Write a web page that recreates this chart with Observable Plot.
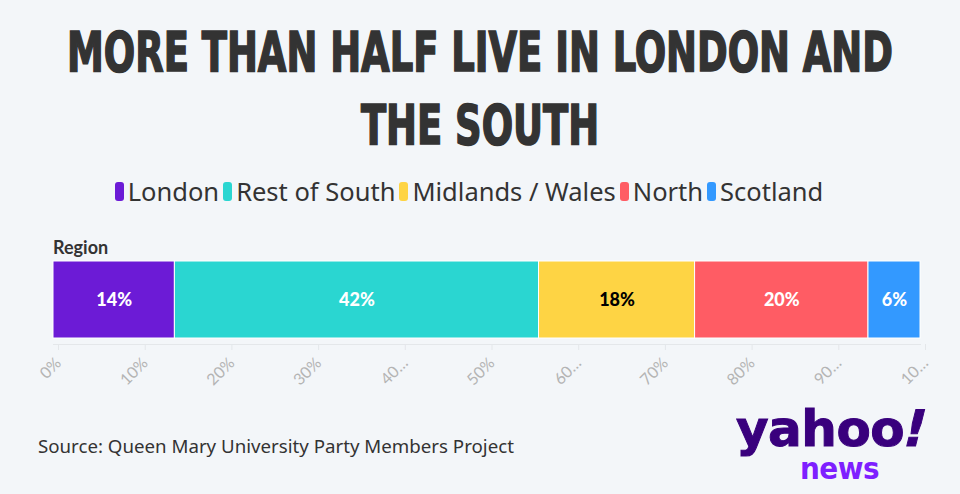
<!DOCTYPE html>
<html><head><meta charset="utf-8">
<script src="https://cdn.jsdelivr.net/npm/d3@7"></script>
<script src="https://cdn.jsdelivr.net/npm/@observablehq/plot@0.6"></script>
<style>
html,body{margin:0;padding:0;background:#f3f6f9;width:960px;height:494px;overflow:hidden;position:relative;}
.tl{position:absolute;left:0;width:960px;height:60px;}
.tl span{position:absolute;left:50%;top:0;font-family:"DejaVu Sans Condensed","DejaVu Sans",sans-serif;font-weight:bold;font-size:56px;line-height:56px;color:#333;white-space:nowrap;-webkit-text-stroke:1.6px #333;transform-origin:center center;}
#legend{position:absolute;left:0;width:942px;top:174px;display:flex;justify-content:center;align-items:center;font-family:"Noto Sans",sans-serif;font-size:25.5px;color:#333;}
#legend .item{display:flex;align-items:center;margin-right:4px;}
#legend .sw{width:9px;height:19px;border-radius:3px;margin-right:4px;}
#region{position:absolute;left:53px;top:236px;font-family:Lato,sans-serif;font-weight:bold;font-size:18px;color:#333;}
#chart{position:absolute;left:0;top:256px;}
#source{position:absolute;left:38px;top:433px;font-family:"Noto Sans",sans-serif;font-size:18.7px;color:#333;}
#logo .y{position:absolute;left:736px;top:408px;font-family:"DejaVu Sans",sans-serif;font-weight:bold;font-size:50px;line-height:42px;color:#39007d;letter-spacing:-0.5px;white-space:nowrap;-webkit-text-stroke:1px #39007d;}
#logo .y i{display:inline-block;transform:skewX(-14deg);font-style:normal;}
#logo .n{position:absolute;left:800px;top:456px;font-family:"DejaVu Sans Condensed","DejaVu Sans",sans-serif;font-weight:bold;font-size:31px;line-height:24px;color:#7e1fff;letter-spacing:-0.5px;}
</style></head>
<body>
<div class="tl" id="t1" style="top:24px"><span>MORE THAN HALF LIVE IN LONDON AND</span></div>
<div class="tl" id="t2" style="top:97px"><span>THE SOUTH</span></div>
<div id="legend"></div>
<div id="region">Region</div>
<div id="chart"></div>
<div id="source">Source: Queen Mary University Party Members Project</div>
<div id="logo"><div class="y">yahoo<i>!</i></div><div class="n">news</div></div>
<script>
const regions = ["London", "Rest of South", "Midlands / Wales", "North", "Scotland"];
const shares = [14, 42, 18, 20, 6];
const palette = ["#6c1bd6", "#2ad6d1", "#fed444", "#ff5c64", "#3399ff"];
const labelInk = ["#ffffff", "#ffffff", "#000000", "#ffffff", "#ffffff"];
const tickValues = [0, 10, 20, 30, 40, 50, 60, 70, 80, 90, 100];
const tickLabels = ["0%", "10%", "20%", "30%", "40…", "50%", "60…", "70%", "80%", "90…", "10…"];

const data = regions.map((r, i) => ({region: r, share: shares[i], color: palette[i], ink: labelInk[i]}));

// condensed title: squeeze both lines by the same factor so line 1 spans ~826px, centred
const s1 = document.querySelector("#t1 span"), s2 = document.querySelector("#t2 span");
const k = 826 / s1.offsetWidth;
s1.style.transform = `translateX(-50%) scaleX(${k})`;
s2.style.transform = `translateX(-50%) scaleX(${k})`;

// legend
const legend = document.getElementById("legend");
regions.forEach((r, i) => {
  const it = document.createElement("div"); it.className = "item";
  const sw = document.createElement("div"); sw.className = "sw"; sw.style.background = palette[i];
  const t = document.createElement("span"); t.textContent = r;
  it.appendChild(sw); it.appendChild(t); legend.appendChild(it);
});

const chart = Plot.plot({
  width: 960, height: 140,
  marginTop: 5, marginBottom: 52, marginLeft: 53, marginRight: 40,
  x: {domain: [0, 100]},
  color: {type: "identity"},
  style: {background: "transparent", overflow: "visible"},
  marks: [
    Plot.frame({anchor: "bottom", stroke: "#e4e7ea"}),
    Plot.axisX({ticks: tickValues, tickFormat: d => tickLabels[tickValues.indexOf(d)], tickRotate: -45,
      tickSize: 6, tickPadding: 10, dx: 5, stroke: "#e4e7ea", fill: "#b4b4b4", fontSize: 16, fontFamily: "Lato", label: null}),
    Plot.barX(data, Plot.stackX({x: "share", fill: "color", order: null, insetBottom: 6, stroke: "#ffffff", strokeWidth: 1})),
    Plot.text(data, Plot.stackX({x: "share", order: null, text: d => d.share + "%", fill: "ink", stroke: "color",
      strokeWidth: 4, paintOrder: "stroke", fontSize: 18, fontWeight: 900, fontFamily: "Lato", dy: -3}))
  ]
});
document.getElementById("chart").appendChild(chart);
</script>
</body></html>
